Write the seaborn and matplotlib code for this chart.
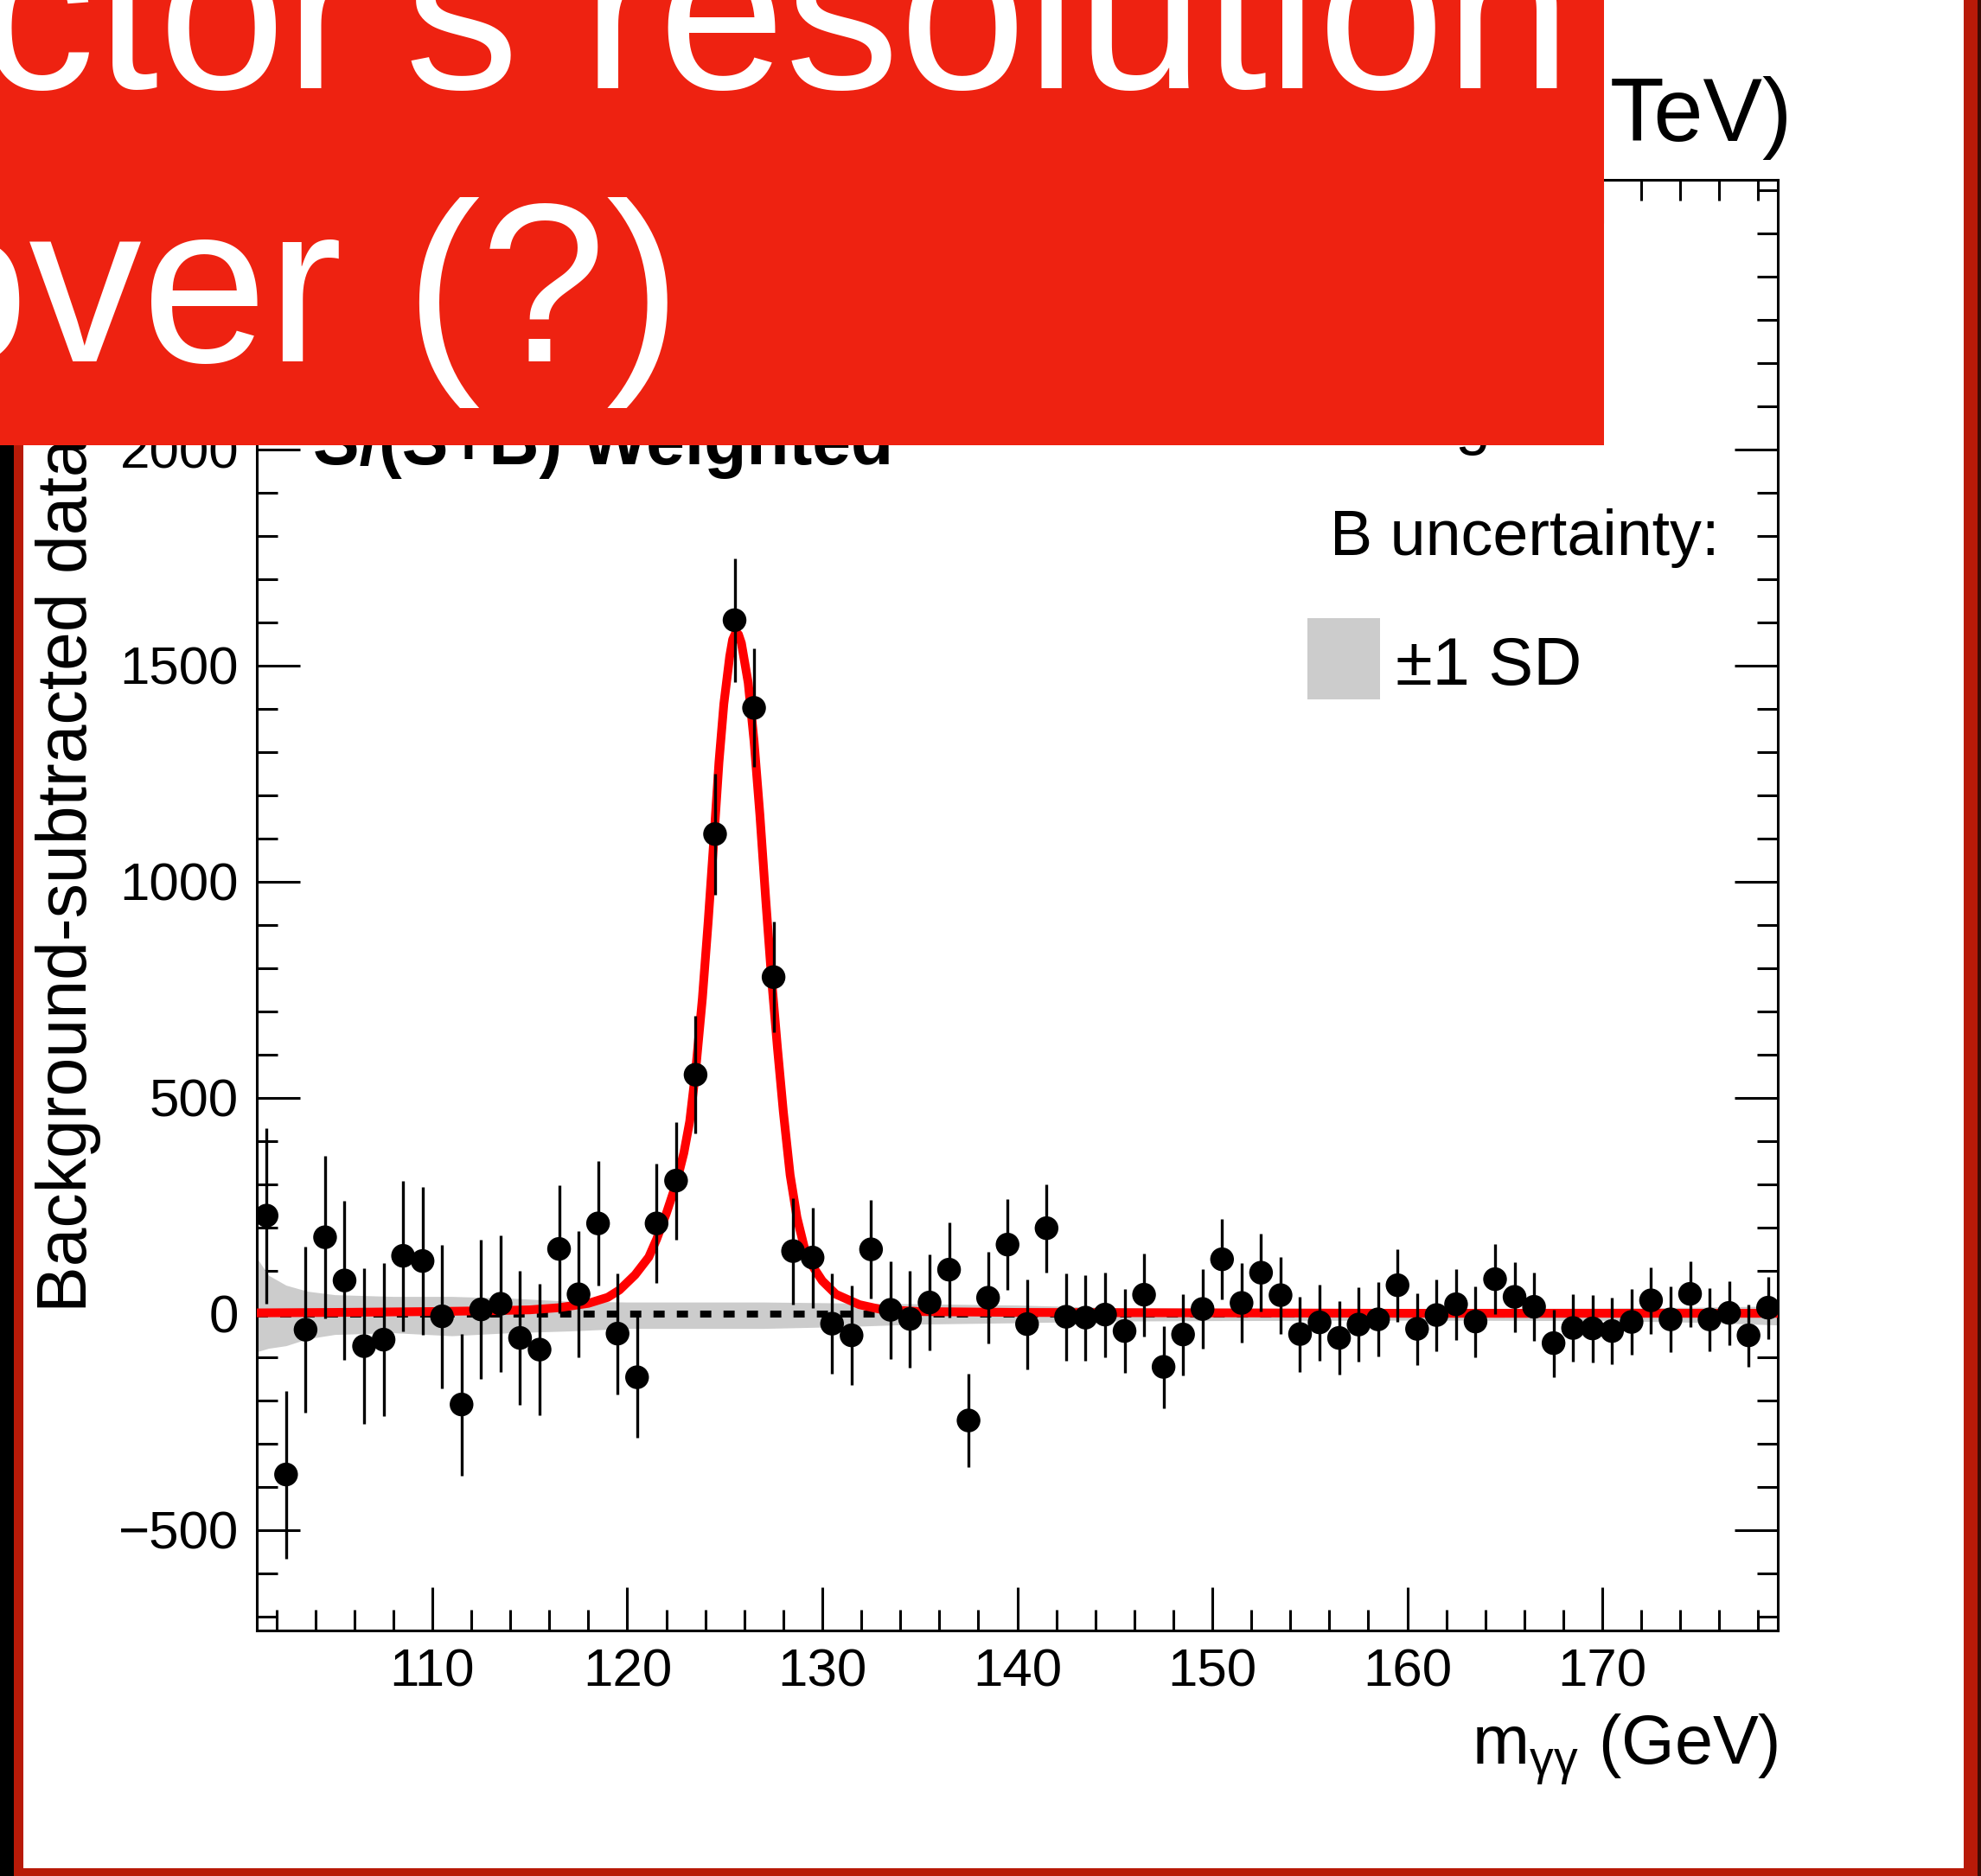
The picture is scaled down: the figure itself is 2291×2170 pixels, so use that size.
import numpy as np
import matplotlib
matplotlib.use("Agg")
import matplotlib.pyplot as plt
from matplotlib.patches import Rectangle
from matplotlib.ticker import MultipleLocator, FixedLocator
import seaborn as sns

# ---------------- data ----------------
mass = np.arange(101.5, 179.0, 1.0)  # bin centres (GeV)
data = [227, -372, -37, 177, 77, -75, -60, 134, 122, -6,
        -210, 10, 23, -56, -83, 150, 45, 209, -46, -147,
        209, 308, 553, 1110, 1605, 1402, 779, 145, 130, -23,
        -50, 149, 9, -12, 26, 102, -247, 37, 160, -24,
        198, -7, -9, -2, -40, 44, -123, -48, 11, 126,
        25, 95, 43, -47, -20, -56, -25, -13, 66, -35,
        -3, 22, -18, 80, 39, 16, -68, -33, -34, -40,
        -19, 31, -13, 46, -13, 2, -50, 14]
err = [203, 194, 192, 188, 184, 180, 177, 174, 171, 166,
       164, 161, 158, 155, 152, 148, 146, 144, 140, 140,
       138, 136, 136, 140, 143, 137, 128, 123, 116, 116,
       115, 114, 113, 112, 111, 110, 108, 106, 105, 104,
       102, 101, 99, 98, 97, 96, 95, 94, 92, 93,
       92, 90, 89, 87, 88, 85, 86, 86, 84, 83,
       83, 82, 82, 81, 81, 79, 78, 78, 78, 77,
       76, 77, 76, 76, 73, 74, 72, 72]

curve_x = [101.0, 105.0, 110.0, 113.0, 115.0, 116.5, 118.0, 119.0, 119.6, 120.4,
           121.1, 121.5, 122.0, 122.5, 122.9, 123.2, 123.5, 123.85, 124.15, 124.45,
           124.7, 124.95, 125.25, 125.4, 125.57, 125.7, 125.85, 126.2, 126.5, 126.8,
           127.1, 127.4, 127.7, 128.0, 128.35, 128.7, 129.2, 130.0, 130.7, 131.9,
           133.0, 135.0, 140.0, 150.0, 160.0, 179.0]
curve_y = [2, 3, 5, 7, 9, 14, 24, 38, 55, 90,
           131, 172, 232, 300, 372, 445, 560, 730, 909, 1105,
           1276, 1411, 1521, 1560, 1577, 1572, 1552, 1460, 1325, 1154,
           958, 774, 615, 468, 321, 223, 131, 76, 45, 21,
           10, 5, 3, 2, 1, 1]

band_x = [101.0, 101.6, 102.5, 103.6, 105.0, 108.0, 111.0, 114.0, 117.0, 120.0,
          123.5, 127.0, 131.0, 135.0, 140.0, 145.0, 150.0, 160.0, 170.0, 175.0, 179.0]
band_hi = [129, 89, 66, 52, 44, 40, 40, 36, 29, 27,
           27, 27, 25, 23, 20, 14, 13, 12, 13, 15, 18]
band_lo = [-88, -80, -74, -58, -48, -44, -51, -44, -40, -34,
           -34, -34, -30, -24, -21, -17, -16, -15, -16, -20, -26]

x_major = [110, 120, 130, 140, 150, 160, 170]
y_major = [-500, 0, 500, 1000, 1500, 2000]

# ---------------- layout helpers ----------------
W, H, DPI = 2291, 2170, 100
def fx(px):
    return px / W
def fy(py):
    return 1 - py / H

sns.set_theme(style="ticks")
plt.rcParams["font.family"] = ["Liberation Sans", "DejaVu Sans"]
plt.rcParams["mathtext.fontset"] = "custom"
plt.rcParams["mathtext.rm"] = "Liberation Sans"
plt.rcParams["mathtext.it"] = "Liberation Sans:italic"
plt.rcParams["axes.unicode_minus"] = True

fig = plt.figure(figsize=(W / DPI, H / DPI), dpi=DPI, facecolor="white")
ax = fig.add_axes([fx(297), fy(1886), fx(2056) - fx(297), fy(208) - fy(1886)])
ax.set_facecolor("white")

# band, zero line, fit curve, data
ax.fill_between(band_x, band_lo, band_hi, color="#CCCCCC", lw=0, zorder=1)
ax.axhline(0, color="black", lw=5.8, ls=(0, (1.6, 1.75)), zorder=2)
sns.lineplot(x=curve_x, y=curve_y, ax=ax, color="#FF0000", lw=7.3,
             sort=False, estimator=None, zorder=3)
ax.errorbar(mass, data, yerr=err, fmt="none", ecolor="black",
            elinewidth=2.4, capsize=0, zorder=4)
sns.scatterplot(x=mass, y=data, ax=ax, s=390, color="black",
                edgecolor="none", linewidth=0, zorder=5)

ax.set_xlim(101, 179)
ax.set_ylim(-733, 2624)
ax.xaxis.set_major_locator(FixedLocator(x_major))
ax.xaxis.set_minor_locator(MultipleLocator(2))
ax.yaxis.set_major_locator(FixedLocator(y_major))
ax.yaxis.set_minor_locator(MultipleLocator(100))
ax.tick_params(which="both", direction="in", top=True, right=True,
               width=2.2, color="black", labelcolor="black", labelsize=44.6, pad=15)
ax.tick_params(which="major", length=36)
ax.tick_params(which="minor", length=17)
for s in ax.spines.values():
    s.set_linewidth(2.2)
    s.set_color("black")
ax.set_xlabel("")
ax.set_ylabel("")

# axis titles
fig.text(fx(2056), fy(2040), r"m$_{\mathrm{\gamma\gamma}}$ (GeV)", ha="right",
         va="baseline", fontsize=57, color="black")
fig.text(fx(100), fy(1518), "Background-subtracted data", rotation=90,
         rotation_mode="anchor", ha="left", va="baseline", fontsize=58, color="black")

# header and labels (partly hidden by the banner)
fig.text(fx(2073), fy(163), "TeV)", ha="right", va="baseline",
         fontsize=74, color="black")
fig.text(fx(362), fy(537), "S/(S+B) Weighted", ha="left", va="baseline",
         fontsize=58, fontweight="bold", color="black")
fig.text(fx(1597), fy(512), "Bkg. fit", ha="left", va="baseline",
         fontsize=53, color="black")
fig.text(fx(1989), fy(642), "B uncertainty:", ha="right", va="baseline",
         fontsize=53, color="black")
fig.add_artist(Rectangle((fx(1512), fy(809)), fx(1596) - fx(1512), fy(715) - fy(809),
                         transform=fig.transFigure, facecolor="#CCCCCC",
                         edgecolor="none", zorder=6))
fig.text(fx(1614), fy(792), "\u00b11 SD", ha="left", va="baseline",
         fontsize=56, color="black")

# slide borders
border_red = "#B81A08"
fig.add_artist(Rectangle((0, 0), fx(16), 1, transform=fig.transFigure,
                         facecolor="black", edgecolor="none", zorder=15))
fig.add_artist(Rectangle((fx(16), 0), fx(11), 1, transform=fig.transFigure,
                         facecolor=border_red, edgecolor="none", zorder=15))
fig.add_artist(Rectangle((fx(16), 0), 1, 9 / H, transform=fig.transFigure,
                         facecolor=border_red, edgecolor="none", zorder=15))
fig.add_artist(Rectangle((fx(2271), 0), fx(20), 1, transform=fig.transFigure,
                         facecolor=border_red, edgecolor="none", zorder=15))
fig.add_artist(Rectangle((fx(2287), 0), fx(4), 1, transform=fig.transFigure,
                         facecolor="#3a0a04", edgecolor="none", zorder=15))

# red banner with title text
fig.add_artist(Rectangle((0, fy(515)), fx(1855), 515 / H, transform=fig.transFigure,
                         facecolor="#EE2211", edgecolor="none", zorder=20))
fig.text(fx(1818), fy(102), "ctor's resolution", ha="right", va="baseline",
         fontsize=190, color="white", zorder=21)
fig.text(fx(788), fy(418), "over (?)", ha="right", va="baseline",
         fontsize=188, color="white", zorder=21)

fig.savefig("out.png", dpi=DPI, facecolor="white")
